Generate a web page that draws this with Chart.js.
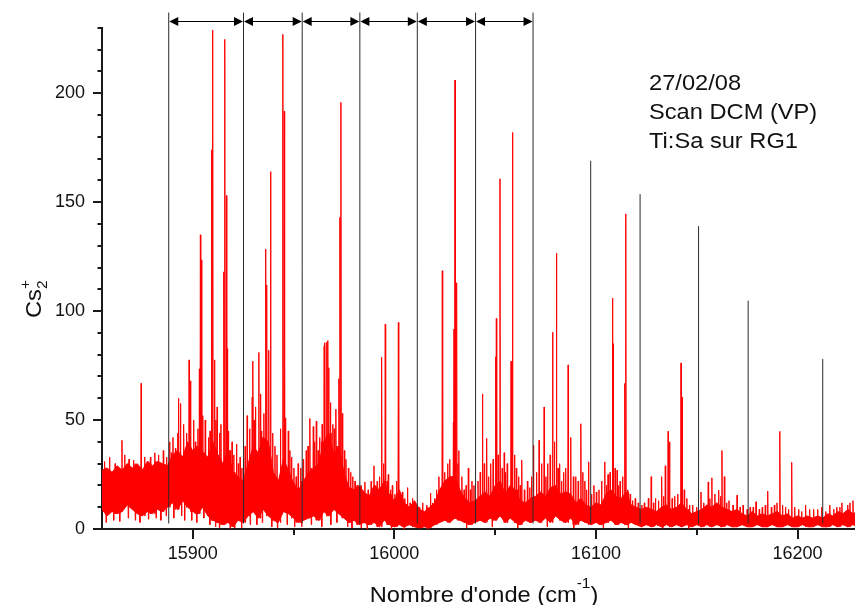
<!DOCTYPE html>
<html>
<head>
<meta charset="utf-8">
<script src="https://cdn.jsdelivr.net/npm/chart.js@4.4.1/dist/chart.umd.min.js"></script>
<style>
html, body { margin: 0; padding: 0; background: #fff; }
canvas { display: block; }
</style>
</head>
<body>
<canvas id="spectre" width="855" height="605"></canvas>
<script>
// noise floor of the scan, read every 2.5 cm-1 (lower / upper edge of the red band)
const bandX = [
  15855, 15857.5, 15860, 15862.5, 15865, 15867.5, 15870, 15872.5, 15875, 15877.5,
  15880, 15882.5, 15885, 15887.5, 15890, 15892.5, 15895, 15897.5, 15900, 15902.5,
  15905, 15907.5, 15910, 15912.5, 15915, 15917.5, 15920, 15922.5, 15925, 15927.5,
  15930, 15932.5, 15935, 15937.5, 15940, 15942.5, 15945, 15947.5, 15950, 15952.5,
  15955, 15957.5, 15960, 15962.5, 15965, 15967.5, 15970, 15972.5, 15975, 15977.5,
  15980, 15982.5, 15985, 15987.5, 15990, 15992.5, 15995, 15997.5, 16000, 16002.5,
  16005, 16007.5, 16010, 16012.5, 16015, 16017.5, 16020, 16022.5, 16025, 16027.5,
  16030, 16032.5, 16035, 16037.5, 16040, 16042.5, 16045, 16047.5, 16050, 16052.5,
  16055, 16057.5, 16060, 16062.5, 16065, 16067.5, 16070, 16072.5, 16075, 16077.5,
  16080, 16082.5, 16085, 16087.5, 16090, 16092.5, 16095, 16097.5, 16100, 16102.5,
  16105, 16107.5, 16110, 16112.5, 16115, 16117.5, 16120, 16122.5, 16125, 16127.5,
  16130, 16132.5, 16135, 16137.5, 16140, 16142.5, 16145, 16147.5, 16150, 16152.5,
  16155, 16157.5, 16160, 16162.5, 16165, 16167.5, 16170, 16172.5, 16175, 16177.5,
  16180, 16182.5, 16185, 16187.5, 16190, 16192.5, 16195, 16197.5, 16200, 16202.5,
  16205, 16207.5, 16210, 16212.5, 16215, 16217.5, 16220, 16222.5, 16225, 16227.5,
  16230
];
const bandLow = [
  9, 6, 8, 7, 8, 11, 9, 7, 6, 8,
  7, 9, 8, 10, 12, 9, 13, 10, 8, 7,
  10, 6, 4, 3, 2, 3, 1, 4, 3, 6,
  8, 5, 9, 6, 4, 3, 8, 7, 5, 3,
  4, 5, 6, 4, 8, 6, 9, 7, 5, 3,
  4, 2, 3, 2, 3, 1, 4, 2, 1, 2,
  1, 2, 1, 0.5, 1, 0.5, 2, 3, 4, 3,
  5, 4, 3, 2, 3, 4, 3, 5, 4, 6,
  3, 5, 3, 2, 4, 3, 4, 3, 5, 3,
  6, 4, 3, 5, 2, 4, 3, 2, 3, 2,
  3, 4, 2, 3, 2, 3, 2, 1, 2, 1,
  2, 1, 2, 1, 2, 1, 2, 1, 2, 1,
  2, 1, 2, 1, 2, 1, 1, 2, 1, 1,
  2, 1, 1, 2, 1, 1, 2, 1, 1, 2,
  1, 1, 2, 1, 1, 2, 1, 2, 1, 2,
  1
];
const bandHigh = [
  27, 28, 26, 29, 27, 30, 28, 30, 27, 31,
  29, 31, 30, 29, 34, 36, 33, 40, 36, 38,
  35, 33, 40, 34, 30, 36, 26, 24, 22, 30,
  38, 35, 42, 40, 26, 22, 32, 27, 21, 18,
  22, 26, 28, 30, 40, 44, 34, 38, 26, 19,
  18, 20, 17, 15, 20, 18, 22, 16, 13, 18,
  12, 10, 13, 9, 8, 10, 12, 18, 22, 24,
  24, 18, 14, 12, 13, 15, 17, 15, 20, 22,
  16, 20, 18, 13, 12, 14, 15, 17, 15, 19,
  20, 16, 17, 16, 12, 14, 11, 10, 12, 11,
  16, 18, 15, 14, 17, 11, 10, 9, 10, 9,
  8, 10, 11, 9, 10, 12, 9, 7, 8, 9,
  11, 10, 12, 10, 9, 8, 9, 7, 6, 8,
  6, 7, 6, 7, 8, 6, 7, 5, 6, 5,
  6, 5, 6, 5, 7, 6, 8, 7, 9, 7,
  8
];

// narrow lines rising out of the band (position cm-1, top Cs2+ counts)
const spikeX = [
  15856.2, 15858.8, 15861.5, 15864.9, 15866.3, 15868.4, 15870.6, 15874.4, 15876.2, 15879.0,
  15881.2, 15883.0, 15885.4, 15887.0, 15889.4, 15891.4, 15892.6, 15893.0, 15893.9, 15896.9,
  15898.2, 15898.9, 15901.3, 15903.3, 15903.8, 15904.3, 15906.2, 15907.8, 15909.3, 15909.9,
  15910.8, 15912.1, 15914.0, 15915.4, 15915.9, 15916.7, 15917.1, 15917.7, 15919.5, 15921.7,
  15923.5, 15927.0, 15929.5, 15929.8, 15931.1, 15932.8, 15934.0, 15935.3, 15936.2, 15936.7,
  15937.7, 15938.6, 15940.8, 15943.5, 15944.7, 15945.4, 15946.0, 15947.4, 15949.0, 15951.3,
  15953.5, 15956.3, 15958.1, 15959.8, 15961.3, 15963.0, 15965.2, 15965.5, 15966.4, 15967.0,
  15967.5, 15969.5, 15971.0, 15972.5, 15973.0, 15973.5, 15974.2, 15976.0, 15978.3, 15980.5,
  15985.4, 15987.0, 15989.9, 15991.5, 15993.7, 15995.5, 15997.0, 15999.0, 16002.0, 16004.0,
  16006.5, 16009.0, 16014.0, 16018.0, 16020.0, 16022.1, 16023.8, 16026.5, 16029.3, 16029.6,
  16030.1, 16030.9, 16032.0, 16034.6, 16036.7, 16038.5, 16041.5, 16043.7, 16045.8, 16047.8,
  16050.3, 16050.6, 16052.4, 16054.5, 16056.0, 16057.9, 16058.6, 16060.5, 16063.2, 16066.0,
  16069.0, 16071.8, 16074.3, 16076.0, 16078.5, 16080.4, 16082.0, 16084.0, 16086.2, 16087.5,
  16090.0, 16092.5, 16094.5, 16096.3, 16099.0, 16101.5, 16104.4, 16106.0, 16108.2, 16108.5,
  16110.5, 16112.0, 16114.3, 16114.8, 16117.0, 16119.5, 16124.0, 16127.4, 16129.5, 16132.6,
  16134.4, 16135.8, 16136.5, 16139.0, 16142.2, 16142.7, 16145.1, 16148.0, 16152.1, 16155.7,
  16157.5, 16159.0, 16160.9, 16162.5, 16163.7, 16166.0, 16170.0, 16173.0, 16176.5, 16179.4,
  16182.5, 16185.2, 16188.5, 16191.2, 16194.0, 16197.1, 16200.5, 16204.0, 16208.0, 16212.0,
  16216.0, 16219.5, 16222.0, 16224.9, 16227.5
];
const spikeY = [
  31, 33, 30, 40.7, 34, 32, 31.6, 66.8, 33, 33,
  35, 34, 36, 33, 35, 37, 44, 60, 57.6, 44,
  77.6, 68, 40, 73.5, 135, 123.5, 50, 42, 174, 229,
  77.6, 56, 48, 118, 224.7, 153, 82.7, 45, 40, 39,
  33, 52, 60.5, 77, 56, 81, 45, 53, 128.5, 112,
  82, 164, 38, 46, 227, 191.7, 51, 45, 33, 24,
  28, 36, 50.7, 47, 49.5, 42, 84, 85.5, 85.7, 86.5,
  74, 48, 55, 69, 143, 195.8, 53, 32, 26, 22,
  21.6, 18, 29, 22, 78.8, 94, 25, 20, 94.8, 17,
  19, 14, 12, 16.5, 14, 24, 118.5, 30, 49, 91.8,
  206, 113, 36, 18, 28, 22, 22, 62, 41.6, 30,
  79, 96.6, 160.7, 35, 30, 77, 182, 28, 31.6, 22,
  38.4, 40.7, 56, 30, 90.3, 126.6, 30, 26, 75.3, 42,
  24, 48.3, 22, 30.8, 20, 18, 30.8, 25, 106, 85,
  27, 22, 66.8, 144.6, 16, 14, 12, 24, 14, 24,
  29, 44.8, 40, 15, 76.2, 60.5, 14, 11, 17, 21.6,
  23.5, 16, 17.8, 36, 24, 13, 15.5, 11, 10, 12.5,
  10, 17.4, 11, 44.8, 10, 30.6, 9, 11, 9, 10,
  11, 10, 12, 11, 13
];

// shorter noise strokes on top of the band
const texX = [
  15888.6, 15890.2, 15895.5, 15900.4, 15902.6, 15905.0, 15908.6, 15911.5, 15913.3, 15918.6,
  15920.4, 15922.6, 15924.4, 15926.0, 15928.2, 15930.4, 15933.6, 15939.6, 15941.8, 15948.2,
  15950.2, 15952.3, 15954.8, 15957.2, 15960.5, 15962.2, 15964.2, 15968.3, 15970.2, 15975.2,
  15977.2, 15979.4, 15981.5, 15983.8, 15986.3, 15988.5, 15990.8, 15992.6, 15994.6, 15996.4,
  15998.2, 16000.3, 16001.2, 16003.0, 16005.2, 16007.8, 16010.5, 16012.5, 16016.0, 16019.0,
  16021.0, 16025.0, 16027.5, 16031.5, 16033.5, 16035.6, 16037.7, 16039.5, 16042.6, 16044.6,
  16046.8, 16049.0, 16051.5, 16053.5, 16055.2, 16059.6, 16061.6, 16062.4, 16064.5, 16067.2,
  16068.0, 16070.5, 16073.0, 16075.2, 16077.3, 16079.4, 16081.2, 16083.0, 16085.0, 16088.8,
  16091.2, 16093.5, 16095.4, 16097.8, 16100.2, 16102.8, 16105.2, 16107.0, 16109.5, 16111.2,
  16113.2, 16115.8, 16118.2, 16121.0, 16122.8, 16126.0, 16128.5, 16131.0, 16133.5, 16137.8,
  16140.5, 16143.8, 16146.5, 16150.0, 16153.5, 16156.5, 16161.8, 16164.8, 16168.0, 16171.5,
  16175.0, 16178.0, 16181.0, 16184.0, 16187.0, 16189.8, 16192.6, 16195.5, 16198.6, 16202.0,
  16206.0, 16210.0, 16214.0, 16218.0, 16221.0, 16226.0
];
const texY = [
  40, 42, 48, 50, 46, 52, 45, 50, 44, 36,
  34, 30, 28, 38, 46, 50, 62, 44, 34, 36,
  28, 30, 32, 38, 40, 36, 48, 58, 46, 36,
  28, 24, 20, 18, 16, 22, 20, 24, 30, 22,
  18, 16, 22, 15, 14, 12, 11, 10, 11, 12,
  18, 26, 32, 30, 24, 20, 18, 20, 26, 30,
  24, 32, 34, 28, 26, 34, 24, 20, 18, 19,
  24, 26, 30, 24, 34, 40, 28, 22, 28, 24,
  22, 26, 18, 16, 17, 22, 20, 26, 28, 20,
  24, 18, 13, 12, 11, 14, 12, 13, 15, 14,
  16, 18, 11, 10, 12, 14, 15, 12, 11, 10,
  9, 10, 9, 11, 10, 12, 11, 9, 10, 8,
  9, 9, 8, 9, 10, 12
];

// dips below the band
const dipX = [
  15857.0, 15860.8, 15863.8, 15868.0, 15871.5, 15873.8, 15878.0, 15881.8, 15884.2, 15886.8,
  15890.6, 15894.5, 15896.0, 15899.5, 15902.0, 15905.5, 15908.5, 15911.3, 15913.2, 15918.5,
  15920.8, 15924.2, 15928.5, 15931.8, 15934.5, 15939.2, 15942.0, 15946.8, 15950.5, 15954.0,
  15958.8, 15964.0, 15968.5, 15971.5, 15976.8, 15979.0, 15983.5, 15986.5, 15998.5, 16004.8,
  16016.5, 16035.8, 16048.5, 16061.2, 16075.8, 16089.0, 16103.6, 16116.0, 16133.0, 16146.0
];
const dipY = [
  3, 4, 3.5, 5, 4, 3, 4.5, 5, 4, 6,
  5, 6, 4, 4, 3, 5, 2, 1, 0.5, 0.3,
  0.5, 0.5, 2, 2, 3, 1, 0.5, 2, 1, 1,
  2, 1, 2, 3, 1, 0.5, 0.5, 0, 0, 0,
  0, 0.5, 1, 0.5, 1, 0.5, 0.5, 0.5, 0.3, 0.3
];

// marker lines: progression with arrows, then isolated markers with their height
const groupLines = [15888.1, 15925.2, 15954.3, 15982.9, 16011.4, 16040.3, 16068.8];
const peakLineX = [16097.4, 16121.9, 16150.9, 16175.5, 16212.5];
const peakLineY = [169, 153.7, 139, 104.8, 78];

const xMajorTicks = [15900, 16000, 16100, 16200];
const xMinorTicks = [15950, 16050, 16150];
const yMajorTicks = [0, 50, 100, 150, 200];
const yMinorTicks = [10, 20, 30, 40, 60, 70, 80, 90, 110, 120, 130, 140, 160, 170, 180, 190, 210, 220, 230];

const noteLines = ['27/02/08', 'Scan DCM (VP)', 'Ti:Sa sur RG1'];

const RED = '#ff0000';
const INK = '#1a1a1a';
const FONT = '"Liberation Sans", Arial, sans-serif';

function nearestBand(x) {
    let best = 0;
    bandX.forEach((bx, i) => {
        if (Math.abs(bx - x) < Math.abs(bandX[best] - x)) best = i;
    });
    return best;
}

// each stroke goes from the band edge to the read value, then a gap
function strokePoints(xs, ys, fromEdge) {
    const pts = [];
    xs.forEach((x, i) => {
        const base = fromEdge[nearestBand(x)];
        pts.push({x: x - 0.2, y: base}, {x: x, y: ys[i]}, {x: x + 0.2, y: base}, {x: x + 0.2, y: null});
    });
    return pts;
}

// text a bit wider than the font, like the original export
function wideText(ctx, text, x, y, size) {
    ctx.save();
    ctx.translate(x, y);
    ctx.scale(1.1, 1);
    ctx.font = size + 'px ' + FONT;
    ctx.fillText(text, 0, 0);
    const w = ctx.measureText(text).width * 1.1;
    ctx.restore();
    return w;
}

function textWidth(ctx, text, size) {
    ctx.font = size + 'px ' + FONT;
    return ctx.measureText(text).width * 1.1;
}

function arrowHead(ctx, x, y, dir) {
    ctx.beginPath();
    ctx.moveTo(x, y);
    ctx.lineTo(x - dir * 9, y - 4.5);
    ctx.lineTo(x - dir * 9, y + 4.5);
    ctx.closePath();
    ctx.fill();
}

const decorations = {
    id: 'decorations',
    afterDatasetsDraw: chart => {
        const ctx = chart.ctx;
        const x = chart.scales.x;
        const y = chart.scales.y;
        const yBottom = y.getPixelForValue(2.5);

        ctx.save();
        ctx.strokeStyle = '#2a2a2a';
        ctx.lineWidth = 1;
        groupLines.forEach(v => {
            const px = x.getPixelForValue(v);
            ctx.beginPath();
            ctx.moveTo(px, y.getPixelForValue(237));
            ctx.lineTo(px, yBottom);
            ctx.stroke();
        });
        peakLineX.forEach((v, i) => {
            const px = x.getPixelForValue(v);
            ctx.beginPath();
            ctx.moveTo(px, y.getPixelForValue(peakLineY[i]));
            ctx.lineTo(px, yBottom);
            ctx.stroke();
        });

        // double arrows between consecutive group lines
        const ay = Math.round(y.getPixelForValue(233)) + 0.5;
        ctx.fillStyle = '#000';
        ctx.strokeStyle = '#000';
        for (let i = 0; i < groupLines.length - 1; i++) {
            const a = x.getPixelForValue(groupLines[i]) + 0.5;
            const b = x.getPixelForValue(groupLines[i + 1]) - 0.5;
            ctx.beginPath();
            ctx.moveTo(a + 4, ay);
            ctx.lineTo(b - 4, ay);
            ctx.stroke();
            arrowHead(ctx, a, ay, -1);
            arrowHead(ctx, b, ay, 1);
        }
        ctx.restore();
    },
    afterDraw: chart => {
        const ctx = chart.ctx;
        const x = chart.scales.x;
        const y = chart.scales.y;
        const area = chart.chartArea;

        ctx.save();
        ctx.strokeStyle = INK;
        ctx.lineWidth = 2;
        yMajorTicks.forEach(v => {
            const py = Math.round(y.getPixelForValue(v));
            ctx.beginPath(); ctx.moveTo(area.left - 9, py); ctx.lineTo(area.left, py); ctx.stroke();
        });
        yMinorTicks.forEach(v => {
            const py = Math.round(y.getPixelForValue(v));
            ctx.beginPath(); ctx.moveTo(area.left - 4.5, py); ctx.lineTo(area.left, py); ctx.stroke();
        });
        xMajorTicks.forEach(v => {
            const px = Math.round(x.getPixelForValue(v));
            ctx.beginPath(); ctx.moveTo(px, area.bottom); ctx.lineTo(px, area.bottom + 10); ctx.stroke();
        });
        xMinorTicks.forEach(v => {
            const px = Math.round(x.getPixelForValue(v));
            ctx.beginPath(); ctx.moveTo(px, area.bottom); ctx.lineTo(px, area.bottom + 6); ctx.stroke();
        });

        ctx.fillStyle = '#111';
        ctx.textBaseline = 'alphabetic';
        ctx.textAlign = 'left';

        // x axis title with superscript
        const main = "Nombre d'onde (cm";
        const total = textWidth(ctx, main, 21.5) + textWidth(ctx, '-1', 14) + textWidth(ctx, ')', 21.5);
        let tx = 484 - total / 2;
        tx += wideText(ctx, main, tx, 602, 21.5);
        tx += wideText(ctx, '-1', tx, 588, 14);
        wideText(ctx, ')', tx, 602, 21.5);

        // y axis title Cs2+ rotated
        ctx.save();
        ctx.translate(41, 318);
        ctx.rotate(-Math.PI / 2);
        const cw = wideText(ctx, 'Cs', 0, 0, 21.5);
        wideText(ctx, '2', cw, 6, 14);
        wideText(ctx, '+', cw, -11, 14);
        ctx.restore();

        // annotation
        noteLines.forEach((t, i) => wideText(ctx, t, 649, 90 + i * 29, 21.5));
        ctx.restore();
    }
};

const ctx = document.getElementById('spectre').getContext('2d');

const chart = new Chart(ctx, {
    type: 'line',
    data: {
        datasets: [{
            label: 'haut',
            data: bandX.map((v, i) => ({x: v, y: bandHigh[i]})),
            borderColor: RED,
            backgroundColor: RED,
            borderWidth: 1,
            pointRadius: 0,
            tension: 0,
            fill: '+1'
        }, {
            label: 'bas',
            data: bandX.map((v, i) => ({x: v, y: bandLow[i]})),
            borderColor: RED,
            borderWidth: 1,
            pointRadius: 0,
            tension: 0,
            fill: false
        }, {
            label: 'bruit',
            data: strokePoints(texX, texY, bandLow).concat(strokePoints(dipX, dipY, bandHigh)),
            borderColor: RED,
            borderWidth: 1,
            pointRadius: 0,
            tension: 0,
            spanGaps: false,
            fill: false
        }, {
            label: 'raies',
            data: strokePoints(spikeX, spikeY, bandLow),
            borderColor: RED,
            borderWidth: 1,
            pointRadius: 0,
            tension: 0,
            spanGaps: false,
            fill: false
        }]
    },
    options: {
        responsive: false,
        animation: false,
        events: [],
        layout: { padding: { top: 25, right: 0, left: 0, bottom: 0 } },
        plugins: {
            legend: { display: false },
            tooltip: { enabled: false }
        },
        scales: {
            x: {
                type: 'linear',
                min: 15855,
                max: 16228.5,
                afterBuildTicks: s => { s.ticks = xMajorTicks.map(v => ({value: v})); },
                afterFit: s => { s.height = 76; },
                grid: { display: false, drawTicks: false },
                border: { display: true, color: INK, width: 2 },
                ticks: {
                    autoSkip: false,
                    maxRotation: 0,
                    padding: 14,
                    color: '#111',
                    font: { family: FONT, size: 18 },
                    callback: v => String(v)
                }
            },
            y: {
                type: 'linear',
                min: 0,
                max: 230,
                afterBuildTicks: s => { s.ticks = yMajorTicks.map(v => ({value: v})); },
                afterFit: s => { s.width = 102; },
                grid: { display: false, drawTicks: false },
                border: { display: true, color: INK, width: 2 },
                ticks: {
                    padding: 17,
                    color: '#111',
                    font: { family: FONT, size: 18 },
                    callback: v => String(v)
                }
            }
        }
    },
    plugins: [decorations]
});
</script>
</body>
</html>
